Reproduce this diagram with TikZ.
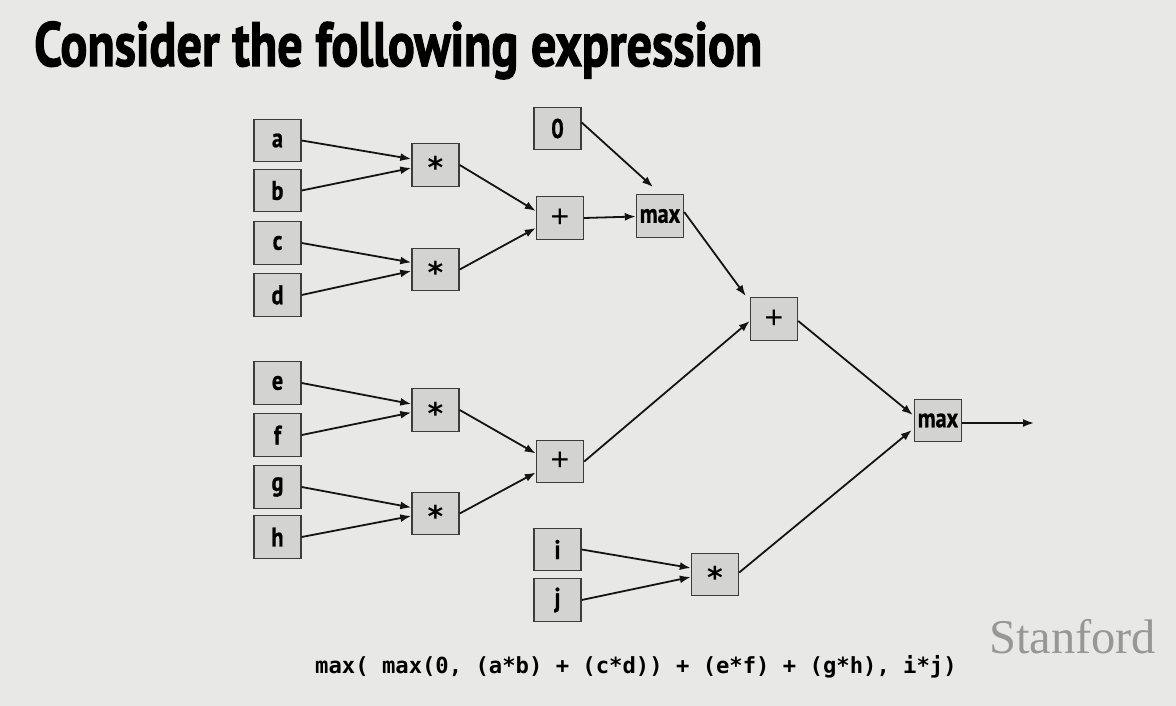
\documentclass[tikz,border=0pt]{standalone}
\usepackage{fontspec}
\usepackage{graphicx}
\usetikzlibrary{arrows.meta,calc}

\newfontfamily\titlefont[FakeBold=2]{PT Sans Bold}
\newfontfamily\labelfont[FakeStretch=0.82,FakeBold=0.8]{PT Sans Bold}
\newfontfamily\symfont{DejaVu Sans Bold}
\newfontfamily\plusfont{Liberation Sans}
\newfontfamily\codefont{DejaVu Sans Mono Bold}
\newfontfamily\logofont{Liberation Serif}

\definecolor{bg}{HTML}{E8E8E6}
\definecolor{boxfill}{HTML}{D3D4D2}
\definecolor{boxline}{HTML}{3C3C3C}
\definecolor{logogray}{HTML}{979797}

% bold asterisk, sitting a little below the box centre
\newcommand\starsym{\raisebox{-28pt}{\smash{\symfont\fontsize{30}{30}\selectfont *}}}

\tikzset{
  opbox/.style={draw=boxline, fill=boxfill, line width=1.4pt,
    minimum width=47pt, minimum height=42.5pt, inner sep=0pt,
    font=\labelfont\fontsize{27}{28}\selectfont},
  plusbox/.style={opbox, font=\plusfont\fontsize{32}{32}\selectfont},
  link/.style={-{Latex[length=11pt,width=8pt]}, line width=1.8pt, draw=black!92},
}

\begin{document}
\begin{tikzpicture}[x=1pt,y=-1pt]
  % canvas
  \fill[bg] (0,0) rectangle (1176,706);
  \useasboundingbox (0,0) rectangle (1176,706);

  % heading
  \node[anchor=base west, inner sep=0pt] (title) at (34,66)
    {\resizebox{728pt}{44.5pt}{\titlefont Consider the following expression}};

  % leaf inputs
  \node[opbox] (a) at (277.5,140.5) {a};
  \node[opbox] (b) at (277.5,190.5) {b};
  \node[opbox] (c) at (277.5,243) {c};
  \node[opbox] (d) at (277.5,295) {d};
  \node[opbox] (e) at (277.5,383) {e};
  \node[opbox] (f) at (277.5,435) {f};
  \node[opbox] (g) at (277.5,487) {g};
  \node[opbox] (h) at (277.5,537) {h};
  \node[opbox] (zero) at (557.5,128.5) {0};
  \node[opbox] (i) at (557.5,549.5) {i};
  \node[opbox] (j) at (557.5,600) {j};

  % products
  \node[opbox] (m1) at (435.5,165) {\starsym};
  \node[opbox] (m2) at (435.5,269.5) {\starsym};
  \node[opbox] (m3) at (435.5,410) {\starsym};
  \node[opbox] (m4) at (435.5,513.5) {\starsym};
  \node[opbox] (m5) at (715,574.5) {\starsym};

  % sums and maxima
  \node[plusbox] (s1) at (560,218) {+};
  \node[plusbox] (s2) at (560,461.5) {+};
  \node[opbox] (x1) at (660,216) {max};
  \node[plusbox] (s3) at (774,319) {+};
  \node[opbox] (x2) at (938,420.5) {max};
  \coordinate (out) at (1034,423);

  % wiring
  \draw[link] (a.east) -- ([yshift=6pt]m1.west);
  \draw[link] (b.east) -- ([yshift=-3pt]m1.west);
  \draw[link] (c.east) -- ([yshift=7pt]m2.west);
  \draw[link] (d.east) -- ([yshift=-1.5pt]m2.west);
  \draw[link] (e.east) -- ([yshift=6pt]m3.west);
  \draw[link] (f.east) -- ([yshift=-2.5pt]m3.west);
  \draw[link] (g.east) -- ([yshift=6pt]m4.west);
  \draw[link] (h.east) -- ([yshift=-2.5pt]m4.west);

  \draw[link] (m1.east) -- ([yshift=7pt]s1.west);
  \draw[link] (m2.east) -- ([yshift=-10pt]s1.west);
  \draw[link] (m3.east) -- ([yshift=8pt]s2.west);
  \draw[link] (m4.east) -- ([yshift=-11pt]s2.west);

  \draw[link] ([yshift=6pt]zero.east) -- ([xshift=-7pt,yshift=7pt]x1.north);
  \draw[link] (s1.east) -- ([yshift=-0.5pt]x1.west);

  \draw[link] ([yshift=4pt]x1.east) -- ([xshift=-4pt,yshift=1pt]s3.north west);
  \draw[link] (s2.east) -- ([yshift=-2pt]s3.west);

  \draw[link] ([yshift=-2pt]s3.east) -- ([xshift=-1pt,yshift=5.5pt]x2.west);
  \draw[link] (i.east) -- ([yshift=6.5pt]m5.west);
  \draw[link] (j.east) -- ([yshift=-2.5pt]m5.west);
  \draw[link] ([yshift=2pt]m5.east) -- ([xshift=-2pt,yshift=-9.5pt]x2.west);

  \draw[link] ([yshift=-2.5pt]x2.east) -- (out);

  % formula
  \node[anchor=base west, inner sep=0pt] (formula) at (315,673)
    {\codefont\fontsize{22.2}{24}\selectfont max( max(0, (a*b) + (c*d)) + (e*f) + (g*h), i*j)};

  % logo
  \node[anchor=base west, inner sep=0pt, text=logogray] (logo) at (989,653)
    {\resizebox{167pt}{!}{\logofont\fontsize{46}{50}\selectfont Stanford}};
\end{tikzpicture}
\end{document}
